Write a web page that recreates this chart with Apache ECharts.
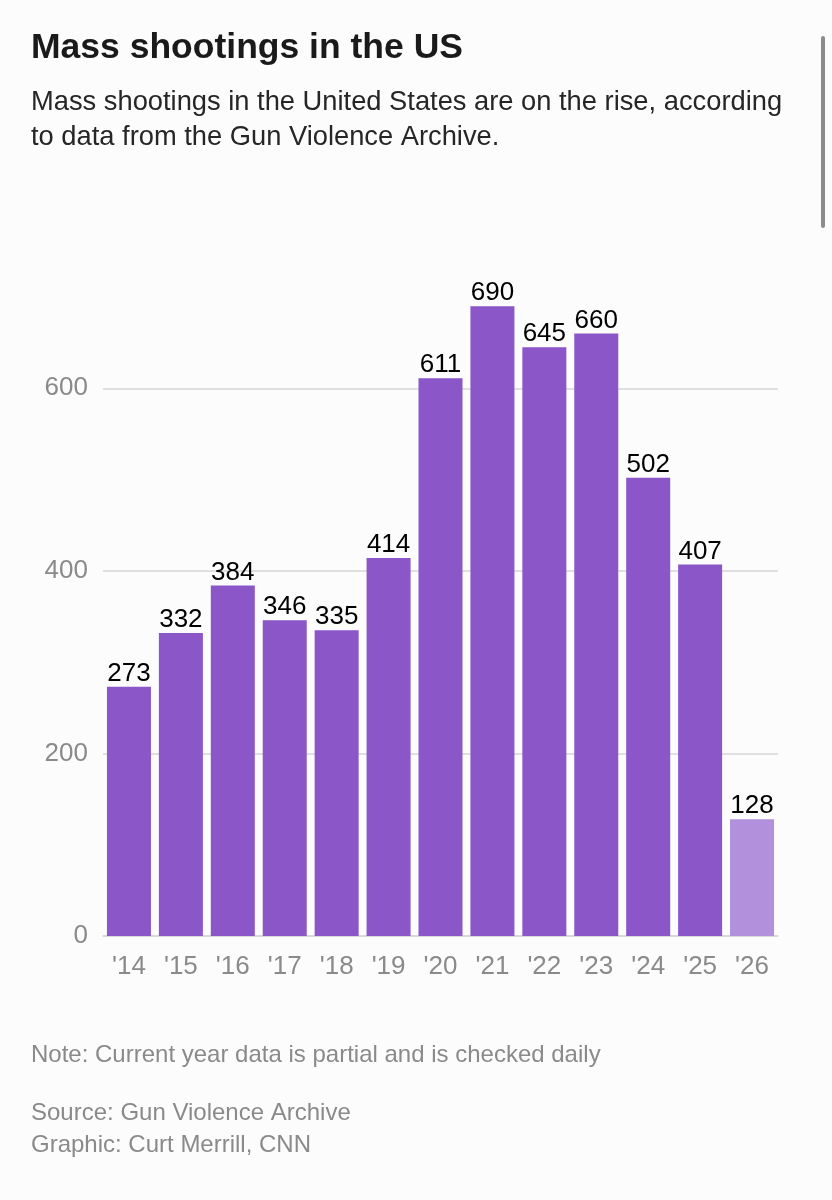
<!DOCTYPE html>
<html>
<head>
<meta charset="utf-8">
<script src="https://cdn.jsdelivr.net/npm/echarts@6/dist/echarts.min.js"></script>
<style>
  html, body { margin: 0; padding: 0; background: #fcfcfc; }
  #main { width: 832px; height: 1200px; }
</style>
</head>
<body>
<div id="main"></div>
<script>
const years = ["'14", "'15", "'16", "'17", "'18", "'19", "'20", "'21", "'22", "'23", "'24", "'25", "'26"]
const shootings = [273, 332, 384, 346, 335, 414, 611, 690, 645, 660, 502, 407, 128]
// last year is partial, drawn lighter
const partialIndex = 12

const FONT = '"Liberation Sans", Arial, sans-serif'

function main() {
    const chart = echarts.init(document.getElementById('main'), null, { renderer: 'canvas' })

    const barData = shootings.map((v, i) => ({
        value: v,
        itemStyle: { color: i === partialIndex ? '#b290dc' : '#8a56c8' }
    }))

    const option = {
        backgroundColor: '#fcfcfc',
        animation: false,
        title: [
            {
                text: 'Mass shootings in the US',
                left: 26, top: 25,
                textStyle: { fontFamily: FONT, fontWeight: 'bold', fontSize: 35.5, color: '#1a1a1a' }
            },
            {
                text: 'Mass shootings in the United States are on the rise, according\nto data from the Gun Violence Archive.',
                left: 26, top: 80,
                textStyle: { fontFamily: FONT, fontWeight: 'normal', fontSize: 27.3, lineHeight: 35, color: '#262626' }
            },
            {
                text: 'Note: Current year data is partial and is checked daily',
                left: 26, top: 1038,
                textStyle: { fontFamily: FONT, fontWeight: 'normal', fontSize: 24, color: '#8a8a8a' }
            },
            {
                text: 'Source: Gun Violence Archive\nGraphic: Curt Merrill, CNN',
                left: 26, top: 1092,
                textStyle: { fontFamily: FONT, fontWeight: 'normal', fontSize: 24, lineHeight: 32, color: '#8a8a8a' }
            }
        ],
        graphic: [
            {
                type: 'rect',
                shape: { x: 821, y: 36, width: 4, height: 192, r: 2 },
                style: { fill: '#8c8c8c' }
            }
        ],
        grid: { left: 103, right: 54, top: 297, bottom: 264 },
        xAxis: {
            type: 'category',
            data: years,
            axisLine: { show: true, lineStyle: { color: '#d6d6d6', width: 1.5 } },
            axisTick: { show: false },
            axisLabel: { fontFamily: FONT, fontSize: 26, color: '#8a8a8a', margin: 18 }
        },
        yAxis: {
            type: 'value',
            min: 0,
            max: 700,
            interval: 200,
            axisLine: { show: false },
            axisTick: { show: false },
            axisLabel: { fontFamily: FONT, fontSize: 26, color: '#8a8a8a', margin: 15, showMaxLabel: false },
            splitLine: { show: true, showMaxLine: false, lineStyle: { color: '#d6d6d6', width: 1.5 } }
        },
        series: [
            {
                type: 'bar',
                data: barData,
                barWidth: 44,
                label: {
                    show: true,
                    position: 'top',
                    distance: 0,
                    fontFamily: FONT,
                    fontSize: 26,
                    color: '#000'
                }
            }
        ]
    }
    chart.setOption(option)
}

window.addEventListener('load', () => {
    main()
})
</script>
</body>
</html>
